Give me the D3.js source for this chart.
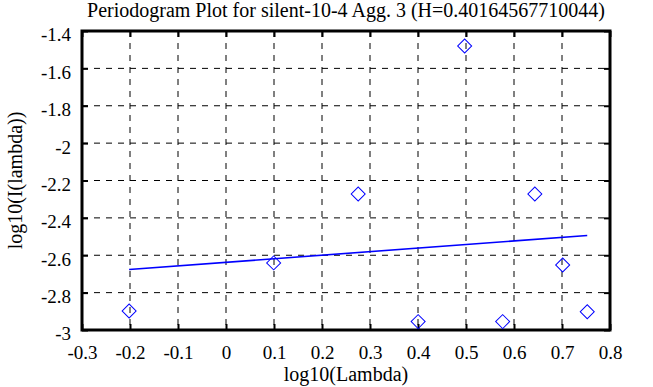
<!DOCTYPE html>
<html>
<head>
<meta charset="utf-8">
<script src="https://cdn.jsdelivr.net/npm/d3@7"></script>
<style>
  body { margin: 0; background: #fff; }
  svg text { font-family: "Liberation Serif", "DejaVu Serif", serif; fill: #000; }
</style>
</head>
<body>
<div id="chart"></div>
<script>
// log10 of frequency lambda = 2*pi*k/10, k = 1..9
const logLambda = [-0.2018, 0.0993, 0.2754, 0.4003, 0.4972, 0.5764, 0.6434, 0.7014, 0.7526];
const logPower = [-2.898, -2.641, -2.272, -2.955, -1.480, -2.955, -2.272, -2.652, -2.902];
const xTicks = [-0.3, -0.2, -0.1, 0, 0.1, 0.2, 0.3, 0.4, 0.5, 0.6, 0.7, 0.8];
const yTicks = [-3, -2.8, -2.6, -2.4, -2.2, -2, -1.8, -1.6, -1.4];
const titleText = "Periodogram Plot for silent-10-4 Agg. 3 (H=0.40164567710044)";

const width = 653, height = 387;
const margin = { top: 31, right: 43, bottom: 57, left: 82 };
const serif = "'Liberation Serif', 'DejaVu Serif', serif";

const svg = d3.select("#chart").append("svg")
  .attr("width", width)
  .attr("height", height);

const x = d3.scaleLinear().domain([-0.3, 0.8]).range([margin.left, width - margin.right]);
const y = d3.scaleLinear().domain([-3, -1.4]).range([height - margin.bottom, margin.top]);

// dashed grid
svg.append("g")
  .selectAll("line")
  .data(xTicks.slice(1, -1))
  .join("line")
  .attr("x1", d => x(d)).attr("x2", d => x(d))
  .attr("y1", y(-1.4)).attr("y2", y(-3))
  .attr("stroke", "#000")
  .attr("stroke-dasharray", "6,6");

svg.append("g")
  .selectAll("line")
  .data(yTicks.slice(1, -1))
  .join("line")
  .attr("y1", d => y(d)).attr("y2", d => y(d))
  .attr("x1", x(-0.3)).attr("x2", x(0.8))
  .attr("stroke", "#000")
  .attr("stroke-dasharray", "6,6");

// axes (ticks inward, mirrored); plain hyphen for minus
const fmt = d => String(+d.toFixed(1));
svg.append("g")
  .attr("transform", `translate(0,${y(-3)})`)
  .call(d3.axisBottom(x).tickValues(xTicks).tickSize(-6).tickPadding(12).tickFormat(fmt))
  .selectAll(".tick text").attr("y", 29).attr("dy", null);
svg.append("g")
  .attr("transform", `translate(${x(-0.3)},0)`)
  .call(d3.axisLeft(y).tickValues(yTicks).tickSize(-6).tickPadding(11).tickFormat(fmt))
  .selectAll(".tick text").attr("dy", "0.52em");
svg.append("g")
  .attr("transform", `translate(0,${y(-1.4)})`)
  .call(d3.axisTop(x).tickValues(xTicks).tickSize(-6).tickFormat(""));
svg.append("g")
  .attr("transform", `translate(${x(0.8)},0)`)
  .call(d3.axisRight(y).tickValues(yTicks).tickSize(-6).tickFormat(""));

svg.selectAll(".domain").remove();
svg.selectAll(".tick line").attr("stroke", "#000").attr("stroke-width", 2);
svg.selectAll(".tick text")
  .attr("font-family", serif)
  .style("font-family", serif)
  .style("font-size", "19px");

// frame
svg.append("rect")
  .attr("x", x(-0.3)).attr("y", y(-1.4))
  .attr("width", x(0.8) - x(-0.3))
  .attr("height", y(-3) - y(-1.4))
  .attr("fill", "none")
  .attr("stroke", "#000")
  .attr("stroke-width", 3);

// least squares fit
const mx = d3.mean(logLambda), my = d3.mean(logPower);
const slope = d3.sum(logLambda, (d, i) => (d - mx) * (logPower[i] - my)) /
  d3.sum(logLambda, d => (d - mx) * (d - mx));
const icpt = my - slope * mx;
const ends = d3.extent(logLambda);

svg.append("line")
  .attr("x1", x(ends[0])).attr("y1", y(icpt + slope * ends[0]))
  .attr("x2", x(ends[1])).attr("y2", y(icpt + slope * ends[1]))
  .attr("stroke", "#0000ff")
  .attr("stroke-width", 1.6);

// diamonds
const diamond = d3.symbol().type(d3.symbolSquare).size(98);
svg.append("g")
  .selectAll("path")
  .data(logLambda)
  .join("path")
  .attr("d", diamond)
  .attr("transform", (d, i) => `translate(${x(d)},${y(logPower[i])}) rotate(45)`)
  .attr("fill", "none")
  .attr("stroke", "#0000ff")
  .attr("stroke-width", 1);

// titles
svg.append("text")
  .attr("x", (x(-0.3) + x(0.8)) / 2)
  .attr("y", 17)
  .attr("text-anchor", "middle")
  .style("font-size", "20px")
  .text(titleText);

svg.append("text")
  .attr("x", (x(-0.3) + x(0.8)) / 2)
  .attr("y", 381)
  .attr("text-anchor", "middle")
  .style("font-size", "20px")
  .text("log10(Lambda)");

svg.append("text")
  .attr("transform", `translate(22,${(y(-1.4) + y(-3)) / 2}) rotate(-90)`)
  .attr("text-anchor", "middle")
  .style("font-size", "20px")
  .text("log10(I(lambda))");
</script>
</body>
</html>
